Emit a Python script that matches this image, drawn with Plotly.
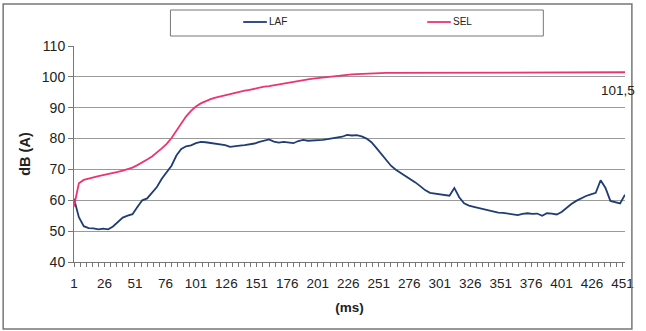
import plotly.graph_objects as go

# Time axis (ms) and the two sound-level series, sampled every 4 ms
MS = list(range(1, 454, 4))

LAF = [
    60.5, 54.5, 51.6, 51.0, 50.9, 50.6, 50.8, 50.6, 51.5, 53.0,
    54.4, 55.0, 55.5, 57.8, 60.0, 60.6, 62.6, 64.3, 67.0, 69.2,
    71.2, 74.5, 76.6, 77.5, 77.8, 78.5, 78.9, 78.8, 78.6, 78.4,
    78.2, 77.9, 77.3, 77.6, 77.7, 77.9, 78.1, 78.4, 78.9, 79.3,
    79.7, 79.0, 78.7, 78.9, 78.7, 78.5, 79.2, 79.6, 79.3, 79.4,
    79.3, 79.6, 79.8, 80.0, 80.3, 80.6, 81.2, 81.0, 81.1, 80.7,
    80.0, 78.8, 77.0, 75.0, 73.0, 71.2, 69.9, 68.9, 67.9, 66.9,
    65.8, 64.6, 63.3, 62.4, 62.2, 61.9, 61.6, 61.5, 64.0, 61.0,
    59.0, 58.3, 57.9, 57.5, 57.0, 56.7, 56.3, 56.0, 55.9, 55.7,
    55.5, 55.2, 55.6, 55.8, 55.6, 55.7, 55.0, 55.8, 55.7, 55.4,
    56.2, 57.6, 58.8, 59.8, 60.7, 61.4, 61.9, 62.4, 66.5, 64.0,
    59.8, 59.3, 59.0, 61.8,
]

SEL = [
    58.0, 65.5, 66.6, 67.1, 67.4, 67.8, 68.1, 68.5, 68.8, 69.2,
    69.6, 70.1, 70.6, 71.4, 72.2, 73.2, 74.2, 75.4, 76.8, 78.3,
    80.2, 82.5, 84.9, 87.2, 89.0, 90.4, 91.4, 92.2, 92.8, 93.3,
    93.7, 94.1, 94.5, 94.8, 95.1, 95.5, 95.8, 96.2, 96.5, 96.8,
    97.0, 97.3, 97.6, 97.9, 98.2, 98.5, 98.7, 98.9, 99.2, 99.4,
    99.6, 99.8, 100.0, 100.1, 100.3, 100.5, 100.6, 100.8, 100.9, 101.0,
    101.1, 101.2, 101.3, 101.3, 101.3, 101.3, 101.3, 101.3, 101.3, 101.3,
    101.3, 101.3, 101.3, 101.3, 101.3, 101.3, 101.3, 101.3, 101.3, 101.3,
    101.3, 101.3, 101.3, 101.3, 101.5, 101.5, 101.5, 101.5, 101.5, 101.5,
    101.5, 101.5, 101.5, 101.5, 101.5, 101.5, 101.5, 101.5, 101.5, 101.5,
    101.5, 101.5, 101.5, 101.5, 101.5, 101.5, 101.5, 101.5, 101.5, 101.5,
    101.5, 101.5, 101.5, 101.5,
]

X_TICKS = list(range(1, 452, 25))
Y_TICKS = [40, 50, 60, 70, 80, 90, 100, 110]

LAF_COLOR = "#1f3c74"
SEL_COLOR = "#ef3370"
FONT = "Liberation Sans, Arial, sans-serif"

# plot-area pixel geometry used to place the frame and legend box
L, R, T, B = 74, 634, 46, 262
W, H = R - L, B - T


def px(x):
    return (x - L) / W


def py(y):
    return (B - y) / H


fig = go.Figure()
fig.add_trace(go.Scatter(x=MS, y=LAF, mode="lines", name="LAF",
                         line=dict(color=LAF_COLOR, width=1.8), showlegend=False))
fig.add_trace(go.Scatter(x=MS, y=SEL, mode="lines", name="SEL",
                         line=dict(color=SEL_COLOR, width=1.8), showlegend=False))

fig.update_layout(
    width=646, height=331,
    margin=dict(l=L, r=646 - R, t=T, b=331 - B),
    paper_bgcolor="white", plot_bgcolor="white",
    font=dict(family=FONT, size=13.5, color="#222"),
    xaxis=dict(
        range=[1, 453], tickvals=X_TICKS, ticktext=[str(v) for v in X_TICKS],
        ticks="outside", ticklen=4, tickcolor="#777", ticklabelstandoff=5,
        minor=dict(tick0=1, dtick=5, ticks="outside", ticklen=4, tickcolor="#777"),
        showgrid=False, zeroline=False,
        showline=True, linecolor="#777", linewidth=1,
        tickfont=dict(size=13.5),
        title=dict(text="<b>(ms)</b>", font=dict(size=13.5), standoff=12),
    ),
    yaxis=dict(
        range=[40, 110], tickvals=Y_TICKS,
        ticks="outside", ticklen=5, tickcolor="#777",
        showgrid=True, gridcolor="#9a9a9a", gridwidth=1,
        zeroline=False, showline=True, linecolor="#777", linewidth=1,
        tickfont=dict(size=14),
        title=dict(text="<b>dB (A)</b>", font=dict(size=14.5), standoff=7),
    ),
    shapes=[
        # outer chart frame
        dict(type="rect", xref="paper", yref="paper",
             x0=px(2), x1=px(641), y0=py(329), y1=py(4),
             line=dict(color="#777", width=1.5)),
        # legend box
        dict(type="rect", xref="paper", yref="paper",
             x0=px(172), x1=px(551), y0=py(36), y1=py(10),
             line=dict(color="#777", width=1)),
        dict(type="line", xref="paper", yref="paper",
             x0=px(246), x1=px(270), y0=py(22), y1=py(22),
             line=dict(color=LAF_COLOR, width=1.8)),
        dict(type="line", xref="paper", yref="paper",
             x0=px(433), x1=px(457), y0=py(22), y1=py(22),
             line=dict(color=SEL_COLOR, width=1.8)),
    ],
    annotations=[
        dict(text="LAF", xref="paper", yref="paper", x=px(270), y=py(22),
             xanchor="left", yanchor="middle", showarrow=False,
             font=dict(size=10, color="#222")),
        dict(text="SEL", xref="paper", yref="paper", x=px(457), y=py(22),
             xanchor="left", yanchor="middle", showarrow=False,
             font=dict(size=10, color="#222")),
        dict(text=f"{SEL[-1]:.1f}".replace(".", ","), x=MS[-1], y=SEL[-1],
             xanchor="right", yanchor="top", xshift=12, yshift=-9,
             showarrow=False, font=dict(size=13.5, color="#222")),
    ],
)

fig.write_html("out.html")
